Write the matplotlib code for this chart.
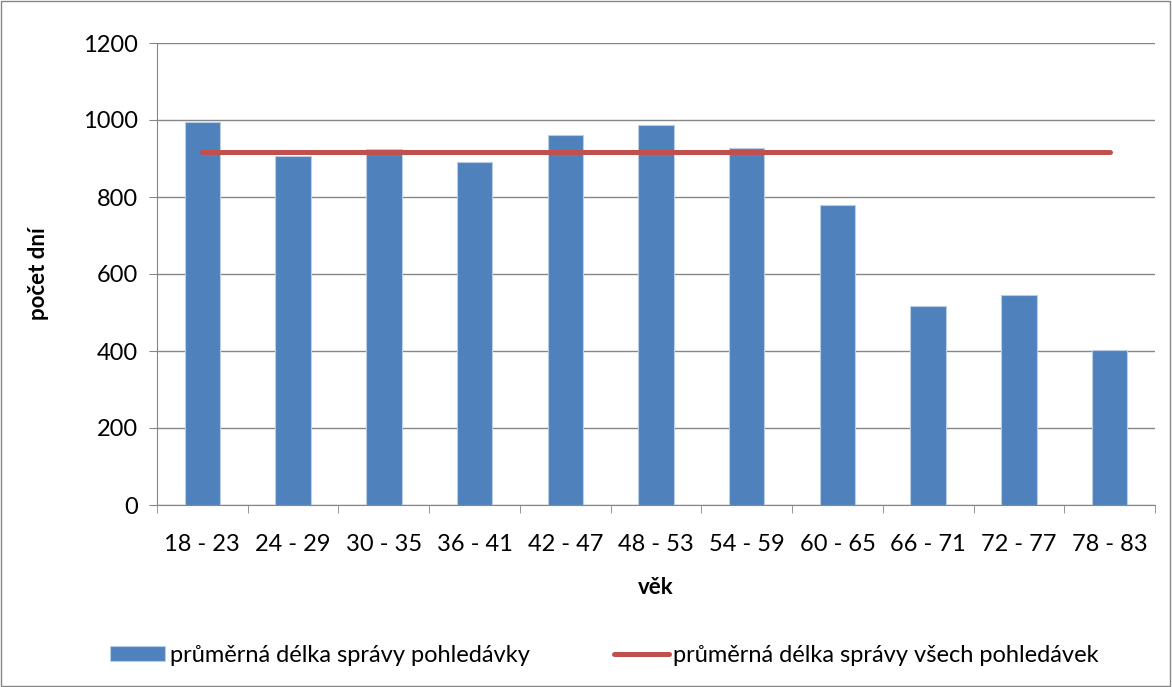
import numpy as np
import matplotlib.pyplot as plt
from matplotlib.patches import Rectangle

plt.rcParams['font.family'] = ['Lato', 'DejaVu Sans']

age_groups = ['18 - 23', '24 - 29', '30 - 35', '36 - 41', '42 - 47', '48 - 53',
              '54 - 59', '60 - 65', '66 - 71', '72 - 77', '78 - 83']
avg_days = [995, 907, 924, 890, 960, 986, 928, 778, 517, 546, 403]
overall_avg = [916] * len(age_groups)

bar_label = 'průměrná délka správy pohledávky'
line_label = 'průměrná délka správy všech pohledávek'

fig = plt.figure(figsize=(11.72, 6.87), dpi=100)
ax = fig.add_axes([157 / 1172, 1 - 505 / 687, (1155 - 157) / 1172, (505 - 43) / 687])

x = np.arange(len(age_groups))
bars = ax.bar(x, avg_days, width=0.39, color='#4F81BD', edgecolor='#B9CDE5', linewidth=0.8,
              label=bar_label, zorder=2)
line, = ax.plot(x, overall_avg, color='#C0504D', linewidth=3.6, solid_capstyle='round',
                label=line_label, zorder=3)

ax.set_xlim(-0.5, len(age_groups) - 0.5)
ax.set_ylim(0, 1200)
ax.set_yticks(range(0, 1201, 200))
ax.set_xticks(x)
ax.set_xticklabels(age_groups)
ax.set_xticks(np.arange(-0.5, len(age_groups)), minor=True)
ax.tick_params(axis='x', which='major', length=0, labelsize=17, pad=21)
ax.tick_params(axis='x', which='minor', length=6, color='#868686')
ax.tick_params(axis='y', length=6, color='#868686', labelsize=17, pad=8)
ax.grid(axis='y', color='#868686', linewidth=1, zorder=0)

for side in ['top', 'right']:
    ax.spines[side].set_visible(False)
for side in ['left', 'bottom']:
    ax.spines[side].set_color('#868686')

ax.set_ylabel('počet dní', fontsize=16, fontweight='bold', labelpad=24)
ax.set_xlabel('věk', fontsize=16, fontweight='bold', labelpad=16)

fig.legend([bars, line], [bar_label, line_label], loc='center',
           bbox_to_anchor=(0.516, 1 - 655 / 687), ncol=2, frameon=False,
           fontsize=17, handlelength=2.3, handleheight=0.6, handletextpad=0.2,
           columnspacing=3.6)

fig.patches.append(Rectangle((0.001, 0.001), 0.997, 0.997, transform=fig.transFigure,
                             fill=False, edgecolor='#868686', linewidth=1))

fig.savefig('out.png', dpi=100)
